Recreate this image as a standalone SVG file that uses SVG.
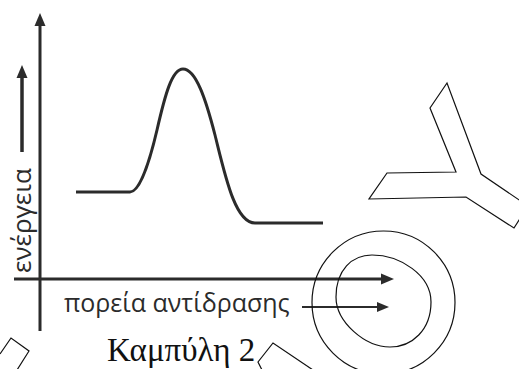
<svg xmlns="http://www.w3.org/2000/svg" width="519" height="369" viewBox="0 0 519 369">
<style>
.ax{stroke:#2b2b2b;stroke-width:3;fill:none}
.head{fill:#2b2b2b}
.thin{stroke:#111;stroke-width:1.2;fill:none;stroke-linejoin:miter}
.lbl{font-family:"Open Sans","Noto Sans",sans-serif;font-size:25px;fill:#2b2b2b}
.ser{font-family:"Liberation Serif","Times New Roman",serif;font-size:33px;fill:#111}
</style>
<rect width="519" height="369" fill="#fff"/>
<g id="connectors">
<line class="ax" x1="40" y1="22" x2="40" y2="331"/>
<path class="head" d="M40,13 L45.5,26 L34.5,26 Z"/>
<line class="ax" x1="14" y1="279" x2="384" y2="279"/>
<path class="head" d="M394,279 L381,273.5 L381,284.5 Z"/>
<line class="ax" x1="22" y1="74" x2="22" y2="152" style="stroke-width:3.5"/>
<path class="head" d="M22,65 L27.5,78 L16.5,78 Z"/>
<line class="ax" x1="302" y1="307" x2="380" y2="307" style="stroke-width:2.2"/>
<path class="head" d="M389,307 L377,302 L377,312 Z"/>
</g>
<g id="curve">
<path class="ax" d="M76,192 L130,192 C140,192 150,160 157,130 C165,95 172,69 183,69 C196,69 206,100 215,135 C225,175 235,223 255,223 L323,223"/>
</g>
<g id="y-label">
<text class="lbl" transform="translate(31,273) rotate(-90)" style="font-size:26px">ενέργεια</text>
</g>
<g id="x-label">
<text class="lbl" x="64" y="312">πορεία αντίδρασης</text>
</g>
<g id="title">
<text class="ser" x="107" y="361">Καμπύλη 2</text>
</g>
<g id="y-shape">
<polygon class="thin" points="447,83 430,108 456,172 387,173 369,199 466,197 514,228 528,206 481,174"/>
</g>
<g id="circles">
<ellipse class="thin" cx="383.5" cy="302.5" rx="71.5" ry="71.5"/>
<path class="thin" d="M336,297 C336,270 352,255 372,255 C400,255 431,275 431,302 C431,330 412,347 390,347 C365,347 336,322 336,297 Z"/>
</g>
<g id="corner-left">
<polyline class="thin" points="0,354 11,338 29,351 17,370"/>
</g>
<g id="corner-right">
<polyline class="thin" points="262,370 258,362 273,343 313,370"/>
</g>
</svg>
